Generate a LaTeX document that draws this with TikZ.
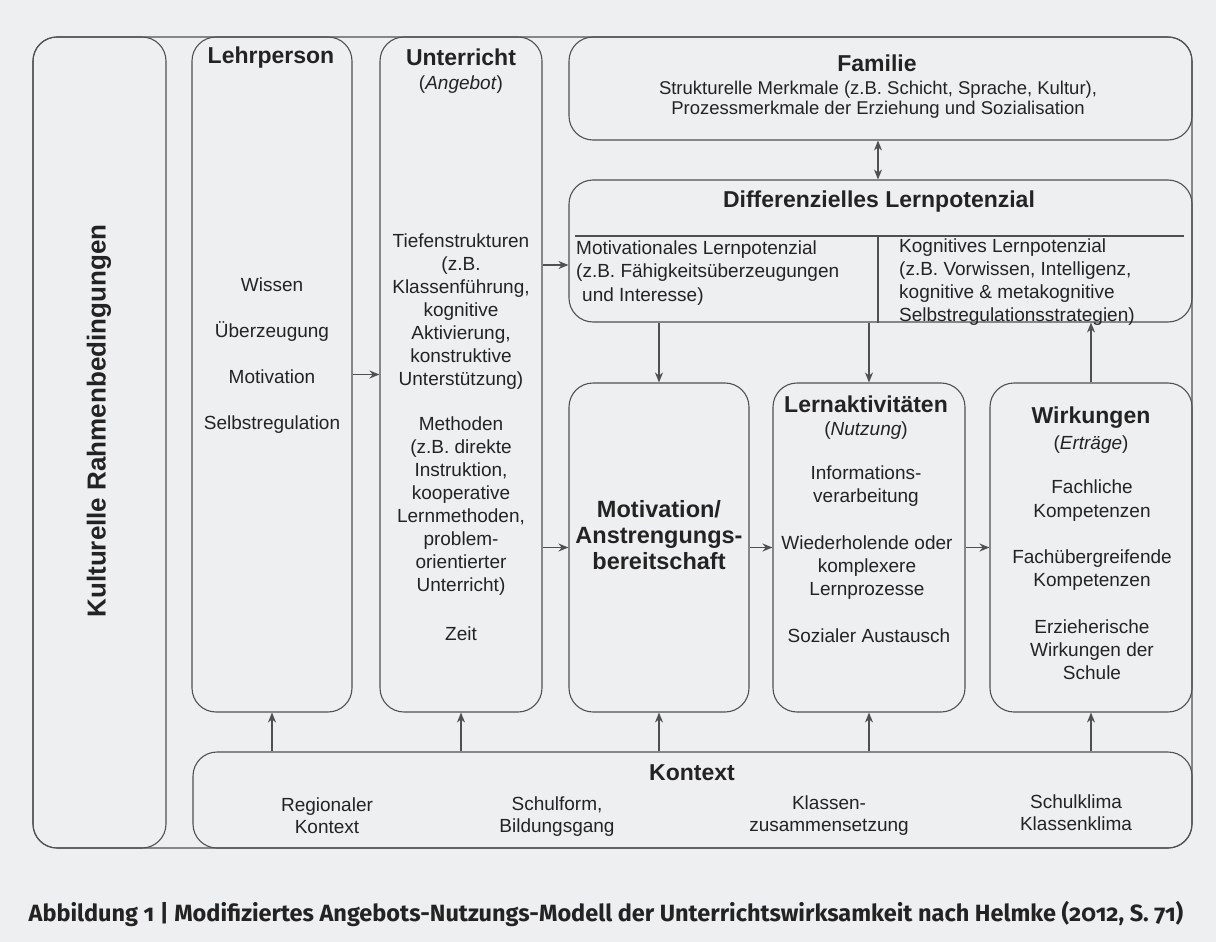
\documentclass[tikz,border=0pt]{standalone}
\usepackage{fontspec}
\setmainfont{Liberation Sans}
\newfontfamily\capfont{Fira Sans}[Numbers=OldStyle]
\usetikzlibrary{arrows.meta,calc}
\definecolor{paper}{RGB}{237,239,241}
\definecolor{ink}{RGB}{35,35,35}
\definecolor{rule}{RGB}{80,80,80}

\begin{document}
\begin{tikzpicture}[x=1pt,y=-1pt,
  box/.style={draw=rule, line width=1.1pt, rounded corners=24pt, inner sep=0pt},
  arr/.style={draw=rule, line width=1.4pt, -{Stealth[length=10pt,width=8pt]}},
  dbl/.style={draw=rule, line width=1.4pt, {Stealth[length=10pt,width=8pt]}-{Stealth[length=10pt,width=8pt]}},
  body/.style={text=ink, align=center, inner sep=0pt, font=\fontsize{19}{23}\selectfont},
  leftbody/.style={body, align=left, font=\fontsize{19}{23.5}\selectfont},
  head/.style={text=ink, align=center, inner sep=0pt, font=\fontsize{23}{26}\selectfont\bfseries},
]
% paper and picture size
\fill[paper] (0,0) rectangle (1216,942);
\useasboundingbox (0,0) rectangle (1216,942);

% outer frame and boxes
\node[box, minimum width=1159pt, minimum height=811pt] (frame) at (612.5,442.5) {};
\node[box, minimum width=133pt, minimum height=811pt] (kult) at (99.5,442.5) {};
\node[box, minimum width=160pt, minimum height=675pt] (lehr) at (272,374.5) {};
\node[box, minimum width=162pt, minimum height=675pt] (unt) at (461,374.5) {};
\node[box, minimum width=623pt, minimum height=103pt] (fam) at (880.5,88.5) {};
\node[box, minimum width=623pt, minimum height=142pt] (diff) at (880.5,251) {};
\node[box, minimum width=180pt, minimum height=329pt] (mot) at (659,547.5) {};
\node[box, minimum width=192pt, minimum height=329pt] (lern) at (869,547.5) {};
\node[box, minimum width=202pt, minimum height=329pt] (wirk) at (1091,547.5) {};
\node[box, minimum width=999pt, minimum height=96pt] (kon) at (692.5,800) {};

% inner division of the learning potential box
\coordinate (dl) at (0,236);
\coordinate (dv) at (878,0);
\coordinate (dlA) at ($(diff.west |- dl)+(7,0)$);
\coordinate (dlB) at ($(diff.east |- dl)+(-9,0)$);
\draw[rule, line width=1.6pt] (dlA) -- (dlB);
\draw[rule, line width=1.3pt] (dv |- dl) -- (dv |- diff.south);

% texts
\node[head, rotate=90, font=\fontsize{26}{30}\selectfont\bfseries] (kultT) at (99,421) {Kulturelle Rahmenbedingungen};

\node[head] (lehrT) at (271,58) {Lehrperson};
\node[body] (lehrB) at (272,356) {Wissen\\[23pt]Überzeugung\\[23pt]Motivation\\[23pt]Selbstregulation};

\node[head] (untT) at (461,57) {Unterricht};
\node[body] (untS) at (461,85) {(\textit{Angebot})};
\node[body] (untB) at (461,437) {Tiefenstrukturen\\(z.B.\\Klassenführung,\\kognitive\\Aktivierung,\\konstruktive\\Unterstützung)\\[22pt]Methoden\\(z.B. direkte\\Instruktion,\\kooperative\\Lernmethoden,\\problem-\\orientierter\\Unterricht)\\[26pt]Zeit};

\node[head] (famT) at (877,63) {Familie};
\node[body, font=\fontsize{18.5}{20}\selectfont] (famB) at (878,100) {Strukturelle Merkmale (z.B. Schicht, Sprache, Kultur),\\Prozessmerkmale der Erziehung und Sozialisation};

\node[head] (diffT) at (879,202) {Differenzielles Lernpotenzial};
\node[leftbody, anchor=west] (motL) at (576,273) {Motivationales Lernpotenzial\\(z.B. Fähigkeitsüberzeugungen\\\hspace*{6pt}und Interesse)};
\node[leftbody, anchor=west, font=\fontsize{19}{23}\selectfont] (kogL) at (899,282.5) {Kognitives Lernpotenzial\\(z.B. Vorwissen, Intelligenz,\\kognitive \& metakognitive\\Selbstregulationsstrategien)};

\node[head, font=\fontsize{23.5}{26}\selectfont\bfseries] (motT) at (659,535) {Motivation/\\Anstrengungs-\\bereitschaft};

\node[head] (lernT) at (866,404) {Lernaktivitäten};
\node[body] (lernS) at (866,431) {(\textit{Nutzung})};
\node[body] (lernA) at (866,486.5) {Informations-\\verarbeitung};
\node[body] (lernB) at (867,568) {Wiederholende oder\\komplexere\\Lernprozesse};
\node[body] (lernC) at (869,636) {Sozialer Austausch};

\node[head] (wirkT) at (1091,418) {Wirkungen};
\node[body] (wirkS) at (1091,445) {(\textit{Erträge})};
\node[body, font=\fontsize{19}{24}\selectfont] (wirkA) at (1092,501) {Fachliche\\Kompetenzen};
\node[body] (wirkB) at (1092,570.5) {Fachübergreifende\\Kompetenzen};
\node[body] (wirkC) at (1092,650) {Erzieherische\\Wirkungen der\\Schule};

\node[head] (konT) at (692,773) {Kontext};
\node[body, font=\fontsize{19}{22}\selectfont] (konA) at (327,816) {Regionaler\\Kontext};
\node[body, font=\fontsize{19}{22}\selectfont] (konB) at (557,817) {Schulform,\\Bildungsgang};
\node[body, font=\fontsize{19}{22}\selectfont] (konC) at (829,816) {Klassen-\\zusammensetzung};
\node[body, font=\fontsize{19}{22}\selectfont] (konD) at (1076,813) {Schulklima\\Klassenklima};

% caption
\node[text=ink, inner sep=0pt, font=\capfont\bfseries\fontsize{23.5}{26}\selectfont] (cap) at (606,914) {Abbildung 1 | Modifiziertes Angebots-Nutzungs-Modell der Unterrichtswirksamkeit nach Helmke (2012, S. 71)};

% connectors
\coordinate (ua) at (0,265);
\draw[arr] (lehr.east) -- (unt.west);
\draw[arr] (unt.east |- ua) -- (diff.west |- ua);
\draw[arr] (unt.east |- mot.west) -- (mot.west);
\draw[arr] (mot.east) -- (lern.west);
\draw[arr] (lern.east) -- (wirk.west);
\draw[dbl] (fam.south -| dv) -- (diff.north -| dv);
\draw[arr] (diff.south -| mot.north) -- (mot.north);
\draw[arr] (diff.south -| lern.north) -- (lern.north);
\draw[arr] (wirk.north) -- (diff.south -| wirk.north);
\foreach \b in {lehr,unt,mot,lern,wirk}
  \draw[arr] (kon.north -| \b.south) -- (\b.south);
\end{tikzpicture}
\end{document}
